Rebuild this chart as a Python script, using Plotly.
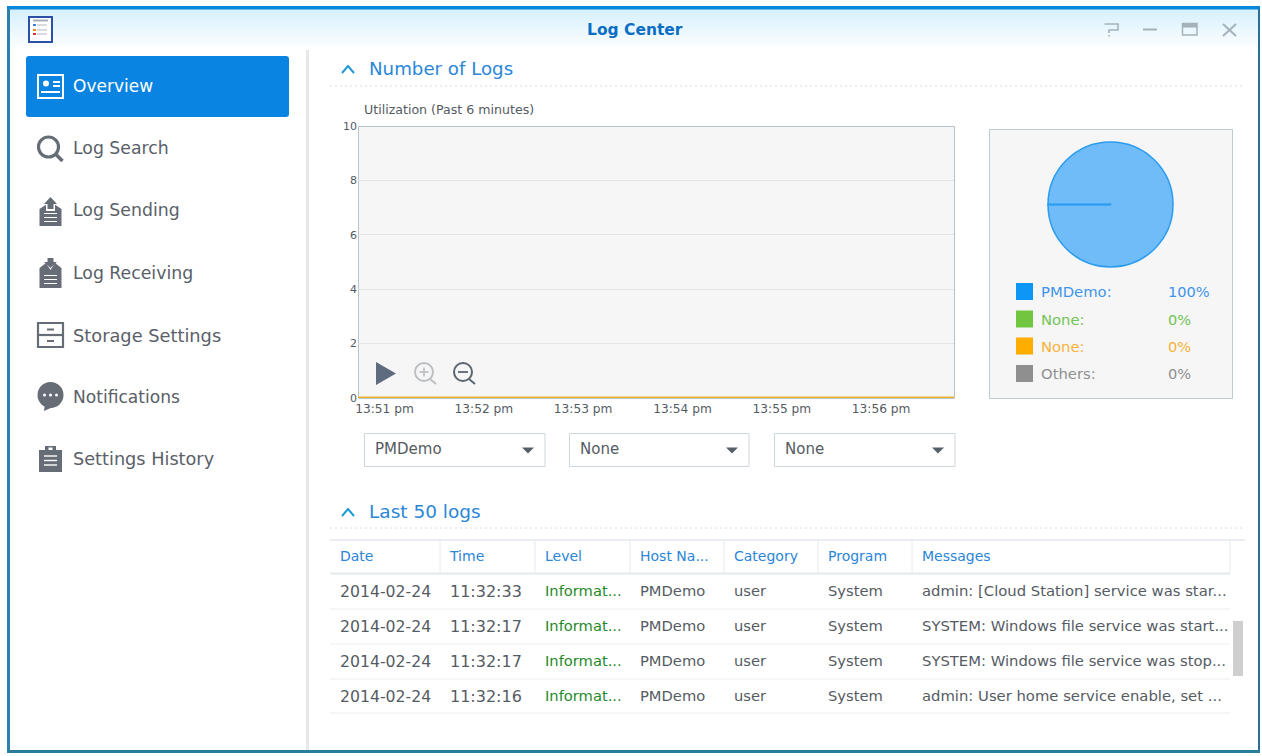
import re
import plotly.graph_objects as go

W, H = 1262, 756
FONT = "DejaVu Sans"

# ---------- data ----------
times = ["2014-02-24 13:50:44", "2014-02-24 13:51:44", "2014-02-24 13:52:44",
         "2014-02-24 13:53:44", "2014-02-24 13:54:44", "2014-02-24 13:55:44",
         "2014-02-24 13:56:44"]
series_names = ["PMDemo", "None", "None"]
pmdemo_values = [0, 0, 0, 0, 0, 0, 0]
none1_values = [0, 0, 0, 0, 0, 0, 0]
none2_values = [0, 0, 0, 0, 0, 0, 0]
y_ticks = [0, 2, 4, 6, 8, 10]

pie_labels = ["PMDemo:", "None:", "None:", "Others:"]
pie_values = [100, 0, 0, 0]
pie_texts = ["100%", "0%", "0%", "0%"]

menu_items = ["Overview", "Log Search", "Log Sending", "Log Receiving",
              "Storage Settings", "Notifications", "Settings History"]
dropdown_values = ["PMDemo", "None", "None"]

table_headers = ["Date", "Time", "Level", "Host Na...", "Category", "Program", "Messages"]
col_date = ["2014-02-24", "2014-02-24", "2014-02-24", "2014-02-24"]
col_time = ["11:32:33", "11:32:17", "11:32:17", "11:32:16"]
col_level = ["Informat...", "Informat...", "Informat...", "Informat..."]
col_host = ["PMDemo", "PMDemo", "PMDemo", "PMDemo"]
col_category = ["user", "user", "user", "user"]
col_program = ["System", "System", "System", "System"]
col_messages = ["admin: [Cloud Station] service was star...",
                "SYSTEM: Windows file service was start...",
                "SYSTEM: Windows file service was stop...",
                "admin: User home service enable, set ..."]

# ---------- pixel helpers ----------
def px(x): return x / W
def py(y): return 1 - y / H

shapes, annos = [], []

def rect(x0, y0, x1, y1, fill=None, line=None, lw=1, layer="below", dash=None):
    shapes.append(dict(type="rect", xref="paper", yref="paper", x0=px(x0), x1=px(x1),
                       y0=py(y0), y1=py(y1), fillcolor=fill or "rgba(0,0,0,0)", layer=layer,
                       line=dict(color=line or "rgba(0,0,0,0)", width=lw if line else 0, dash=dash)))

def seg(x0, y0, x1, y1, color, lw=1, dash=None, layer="above"):
    shapes.append(dict(type="line", xref="paper", yref="paper", x0=px(x0), x1=px(x1),
                       y0=py(y0), y1=py(y1), layer=layer,
                       line=dict(color=color, width=lw, dash=dash)))

def circ(cx, cy, r, fill=None, line=None, lw=1, layer="above"):
    shapes.append(dict(type="circle", xref="paper", yref="paper", x0=px(cx - r), x1=px(cx + r),
                       y0=py(cy - r), y1=py(cy + r), fillcolor=fill or "rgba(0,0,0,0)", layer=layer,
                       line=dict(color=line or "rgba(0,0,0,0)", width=lw if line else 0)))

def path(d, fill=None, line=None, lw=1, layer="above"):
    nums = iter(re.findall(r"-?\d+\.?\d*|[A-Za-z]", d))
    out, isx = [], True
    for t in nums:
        if t.isalpha():
            out.append(t)
        else:
            v = float(t)
            out.append(f"{px(v):.6f}" if isx else f"{py(v):.6f}")
            isx = not isx
    shapes.append(dict(type="path", xref="paper", yref="paper", path=" ".join(out), layer=layer,
                       fillcolor=fill or "rgba(0,0,0,0)",
                       line=dict(color=line or "rgba(0,0,0,0)", width=lw if line else 0)))

def text(x, y, s, size=14, color="#555b63", anchor="left", bold=False):
    annos.append(dict(xref="paper", yref="paper", x=px(x), y=py(y), text=f"<b>{s}</b>" if bold else s,
                      showarrow=False, xanchor=anchor, yanchor="middle", align=anchor,
                      font=dict(family=FONT, size=size, color=color),
                      borderpad=0, borderwidth=0))

# ---------- window chrome ----------
rect(10, 9, 1258, 751, fill="#ffffff")
start, end = (214, 240, 253), (255, 255, 255)
for i in range(42):
    t = i / 41
    c = tuple(round(a + (b - a) * t) for a, b in zip(start, end))
    rect(10, 9 + i, 1258, 10.5 + i, fill=f"rgb{c}")
rect(7, 6, 1260, 9.5, fill="#0a86dc")
rect(7, 9, 10, 752, fill="#2d7fae")
rect(1258, 9, 1260, 752, fill="#2a6f98")
rect(7, 750, 1260, 753, fill="#2a7d9c")
rect(306, 50, 309, 750, fill="#e8e8e8")

# app logo
rect(29, 17, 52, 42, fill="#ffffff", line="#2c50a8", lw=2, layer="above")
rect(33, 19.5, 48, 21.5, fill="#a6b0ba", layer="above")
for yy, c in zip((25, 30, 34), ("#3b7fd0", "#e8872c", "#d8362c")):
    rect(33, yy - 1, 36, yy + 1, fill=c, layer="above")
    seg(37, yy, 47, yy, "#b0b8c0", 1)

text(635, 30, "Log Center", size=15.5, color="#0a6fc4", anchor="center", bold=True)

# window controls
CTRL = "#a6b2b9"
path("M 1104.5 24 L 1118 24 L 1118 30 L 1109 30 L 1109 33", line=CTRL, lw=1.6)
seg(1109, 35, 1109, 36.5, CTRL, 1.6)
seg(1143, 29.5, 1157, 29.5, CTRL, 2)
rect(1182.5, 23.5, 1197, 35, line=CTRL, lw=1.5, layer="above")
rect(1182.5, 23.5, 1197, 27.5, fill=CTRL, layer="above")
seg(1223, 24, 1236, 36, CTRL, 2)
seg(1236, 24, 1223, 36, CTRL, 2)

# ---------- sidebar ----------
ICON = "#666d76"
path("M 29 56 L 286 56 Q 289 56 289 59 L 289 114 Q 289 117 286 117 L 29 117 Q 26 117 26 114 L 26 59 Q 26 56 29 56 Z",
     fill="#0a84e2", layer="below")
menu_y = [86, 148, 210, 273, 335, 397, 459]
menu_sizes = [17, 17.3, 17.3, 17.3, 17.8, 17.1, 17.7]
for name, y, sz, i in zip(menu_items, menu_y, menu_sizes, range(len(menu_items))):
    text(73, y, name, size=sz, color="#ffffff" if i == 0 else "#5a6068")

# overview icon
rect(38, 75, 63, 98, line="#ffffff", lw=2, layer="above")
circ(46, 83.5, 3, fill="#ffffff")
seg(53, 82, 60, 82, "#ffffff", 2); seg(53, 86, 60, 86, "#ffffff", 2)
seg(41, 92, 60, 92, "#ffffff", 2)
# search icon
circ(48.5, 147, 10, line=ICON, lw=3.2)
seg(56, 154.5, 62.5, 161, ICON, 3.5)
# send icon
path("M 39.5 209 L 47 204 L 54 204 L 61.5 209 L 61.5 226 L 39.5 226 Z", fill=ICON)
path("M 50.5 195 L 59 205 L 55 205 L 55 211 L 46 211 L 46 205 L 42 205 Z", fill="#ffffff")
path("M 50.5 197 L 57 204 L 53.5 204 L 53.5 209 L 47.5 209 L 47.5 204 L 44 204 Z", fill=ICON)
for yy in (213.5, 217.5, 221.5):
    seg(44, yy, 57, yy, "#ffffff", 1)
# receive icon
path("M 39.5 268 L 46 263 L 50.5 270 L 55 263 L 61.5 268 L 61.5 288 L 39.5 288 Z", fill=ICON)
path("M 50.5 268 L 44 262 L 47.5 262 L 47.5 258 L 53.5 258 L 53.5 262 L 57 262 Z", fill=ICON)
for yy in (275.5, 279.5, 283.5):
    seg(44, yy, 57, yy, "#ffffff", 1)
# storage icon
rect(38, 323, 63, 347, line=ICON, lw=2.2, layer="above")
seg(38, 335, 63, 335, ICON, 2.2)
seg(47, 329.5, 54, 329.5, ICON, 2); seg(47, 341, 54, 341, ICON, 2)
# notification icon
circ(50.5, 395, 13, fill=ICON)
path("M 45 404 L 53 407 L 44 411 Z", fill=ICON)
for xx in (44.5, 50.5, 56.5):
    circ(xx, 395, 1.5, fill="#ffffff")
# history icon
rect(39, 450, 62, 472, fill=ICON, layer="above")
rect(45, 446, 56, 452, fill=ICON, layer="above")
rect(48.5, 447.5, 52.5, 450, fill="#ffffff", layer="above")
for yy in (456, 460.5, 465):
    seg(44, yy, 57, yy, "#ffffff", 1.4)

# ---------- section headers ----------
HEAD = "#2a86d8"
for y, title, dy, sz in ((68, "Number of Logs", 18, 18.2), (511, "Last 50 logs", 17, 18.5)):
    path(f"M 342 {y+5} L 348 {y-2} L 354 {y+5}", line="#1d9ad6", lw=2)
    text(369, y, title, size=sz, color=HEAD)
    seg(330, y + dy, 1245, y + dy, "#d8dde2", 1, dash="2px,3px")

text(364, 109, "Utilization (Past 6 minutes)", size=12.6, color="#555b63")

# ---------- chart frame (drawn below the traces) ----------
rect(358.5, 126.5, 954.5, 398.5, fill="#f6f6f7", line="#b8c3cc", lw=1)

# ---------- right panel ----------
rect(989.5, 129.5, 1232.5, 398.5, fill="#f6f6f7", line="#c0cbd4", lw=1)
swatch_colors = ["#0c97f6", "#70c63f", "#ffad00", "#8f8f8f"]
text_colors = ["#3f95ea", "#72c455", "#f9b23a", "#8f8f8f"]
legend_y = [291.5, 319, 346, 373.5]
for lab, val, sc, tc, y in zip(pie_labels, pie_texts, swatch_colors, text_colors, legend_y):
    rect(1016, y - 8.5, 1033, y + 8.5, fill=sc)
    text(1041, y, lab, size=14.8, color=tc)
    text(1168, y, val, size=14.6, color=tc)

# ---------- chart overlays ----------
path("M 376 362 L 396 373.5 L 376 385 Z", fill="#5f6b7e")
circ(424, 372, 9, line="#bcbfc2", lw=2)
seg(430, 379, 436, 384, "#bcbfc2", 2)
seg(419.5, 372, 428.5, 372, "#bcbfc2", 1.6); seg(424, 367.5, 424, 376.5, "#bcbfc2", 1.6)
circ(463, 372, 9, line="#5c666e", lw=2)
seg(469, 379, 475, 384, "#5c666e", 2)
seg(458, 372, 468, 372, "#5c666e", 1.8)

# ---------- dropdowns ----------
for (x0, x1), label in zip(((364.5, 545), (569.5, 749), (774.5, 955)), dropdown_values):
    rect(x0, 433.5, x1, 466.5, fill="#ffffff", line="#cfd7de", lw=1)
    text(x0 + 10.5, 449.5, label, size=15, color="#555b63")
    path(f"M {x1-23} 447.5 L {x1-11} 447.5 L {x1-17} 453.5 Z", fill="#55606a")

# ---------- table decoration ----------
seg(330, 540, 1245, 540, "#d5dbe2", 1)
seg(330, 573.5, 1230, 573.5, "#e4e9ef", 2)
for y in (609, 644, 679, 713):
    seg(330, y, 1230, y, "#eeeeee", 1)
for x in (440, 535, 630, 724, 818, 912, 1230):
    seg(x, 541, x, 573, "#e6ebf0", 1)
rect(1233, 621, 1243, 676, fill="#cfcfcf", layer="above")

# ---------- figure ----------
fig = go.Figure()
line_colors = ["#0c97f6", "#70c63f", "#f0b030"]
# only the topmost series is seen, as in the reference: it keeps the wider stroke
line_widths = [1, 1, 3]
for name, vals, c, lw in zip(series_names, (pmdemo_values, none1_values, none2_values), line_colors, line_widths):
    fig.add_trace(go.Scatter(x=times, y=vals, mode="lines", name=name, cliponaxis=False,
                             line=dict(color=c, width=lw), showlegend=False, hoverinfo="skip"))

fig.add_trace(go.Pie(labels=[f"{l}{i}" for i, l in enumerate(pie_labels)], values=pie_values,
                     domain=dict(x=[px(1048), px(1173)], y=[py(267), py(142)]),
                     rotation=270,
                     marker=dict(colors=["#70bcf8", "#70c63f", "#ffad00", "#8f8f8f"],
                                 line=dict(color="#2a9cf0", width=1.5)),
                     textinfo="none", sort=False, showlegend=False, hoverinfo="skip"))

cell_colors = [["#555b63"] * 4, ["#555b63"] * 4, ["#1f8a2a"] * 4, ["#555b63"] * 4,
               ["#555b63"] * 4, ["#555b63"] * 4, ["#555b63"] * 4]
cell_sizes = [15.7, 16, 14.7, 14.7, 14.7, 14.7, 14.8]
fig.add_trace(go.Table(
    domain=dict(x=[px(332), px(1256)], y=[py(722), py(542)]),
    columnwidth=[110, 95, 95, 94, 94, 94, 342],
    header=dict(values=table_headers, height=35, align="left",
                font=dict(family=FONT, size=14, color="#2a86d8"),
                fill_color="rgba(0,0,0,0)", line=dict(width=0, color="rgba(0,0,0,0)")),
    cells=dict(values=[col_date, col_time, col_level, col_host, col_category, col_program, col_messages],
               height=35, align="left", font=dict(family=FONT, size=cell_sizes, color=cell_colors),
               fill_color="rgba(0,0,0,0)", line=dict(width=0, color="rgba(0,0,0,0)"))))

fig.update_layout(
    width=W, height=H, autosize=False,
    margin=dict(l=0, r=0, t=0, b=0, pad=0, autoexpand=False),
    paper_bgcolor="#ffffff", plot_bgcolor="rgba(0,0,0,0)", showlegend=False,
    shapes=shapes, annotations=annos, font=dict(family=FONT, color="#555b63"),
    xaxis=dict(domain=[px(358), px(954)], type="date", range=[times[0], times[-1]],
               tick0="2014-02-24 13:51:00", dtick=60000, tickformat="%H:%M pm",
               showgrid=False, zeroline=False, showline=False,
               ticks="", ticklabelstandoff=2,
               tickfont=dict(size=12.2, color="#555b63", family=FONT), fixedrange=True),
    yaxis=dict(domain=[py(398), py(126)], range=[0, 10], tickvals=y_ticks,
               gridcolor="#e2e4e6", gridwidth=1, zeroline=False, showline=False,
               ticks="", ticklabelstandoff=0,
               tickfont=dict(size=11, color="#555b63", family=FONT), fixedrange=True),
)

fig.write_html("out.html", config=dict(displayModeBar=False),
               post_script="document.body.style.margin='0';document.body.style.overflow='hidden';")
